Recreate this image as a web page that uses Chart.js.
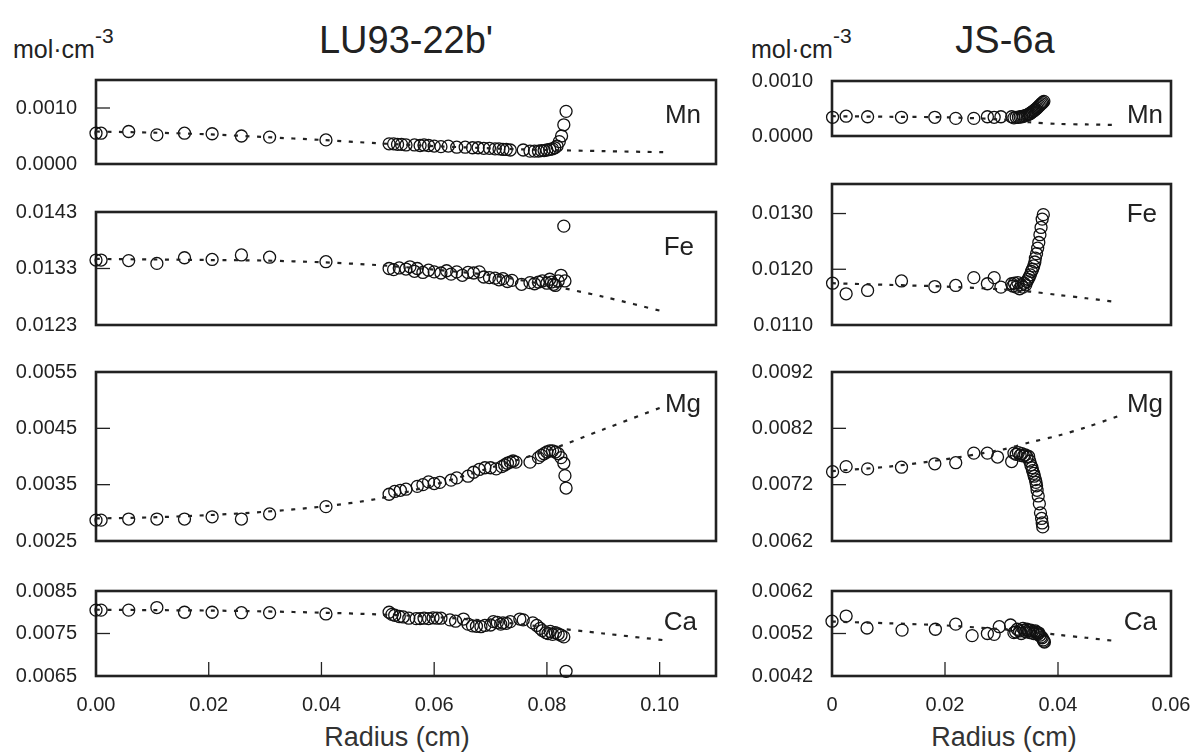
<!DOCTYPE html>
<html><head><meta charset="utf-8">
<script src="https://cdn.jsdelivr.net/npm/chart.js@4.4.1/dist/chart.umd.min.js"></script>
<style>
html,body{margin:0;padding:0;background:#fff;}
#wrap{position:relative;width:1193px;height:752px;overflow:hidden;font-family:"Liberation Sans",Arial,sans-serif;color:#222;}
canvas{position:absolute;}
.t{position:absolute;white-space:nowrap;line-height:1;}
.c{transform:translateX(-50%);}
</style></head><body><div id="wrap">
<div class="t c" style="left:406px;top:21px;font-size:38px;">LU93-22b'</div>
<div class="t c" style="left:1005px;top:21px;font-size:38px;">JS-6a</div>
<div class="t" style="left:13px;top:37px;font-size:25px;">mol·cm<span style="position:relative;top:-15px;font-size:21px;">-3</span></div>
<div class="t" style="left:751px;top:37px;font-size:25px;">mol·cm<span style="position:relative;top:-15px;font-size:21px;">-3</span></div>
<div class="t c" style="left:397px;top:724px;font-size:27px;color:#333;">Radius (cm)</div>
<div class="t c" style="left:1004px;top:724px;font-size:27px;color:#333;">Radius (cm)</div>
</div>
<script>
// ---------- LU93-22b' (left column) ----------
const luXTicks = [0, 0.02, 0.04, 0.06, 0.08, 0.10];
const luXLabels = ['0.00', '0.02', '0.04', '0.06', '0.08', '0.10'];

const luMnX = [0,0.0009,0.0058,0.0108,0.0157,0.0206,0.0258,0.0308,0.0408,0.0520,0.0528,0.0535,0.0542,0.0550,0.0565,0.0575,0.0582,0.0590,0.0600,0.0612,0.0625,0.0640,0.0655,0.0668,0.0678,0.0688,0.0698,0.0708,0.0715,0.0722,0.0728,0.0735,0.0758,0.0770,0.0778,0.0785,0.0790,0.0795,0.0800,0.0805,0.0810,0.0814,0.0818,0.0822,0.0826,0.0830,0.0834];
const luMnY = [0.00055,0.00055,0.00058,0.00052,0.00055,0.00054,0.00050,0.00048,0.00043,0.00036,0.00036,0.00035,0.00035,0.00034,0.00034,0.00033,0.00034,0.00033,0.00032,0.00031,0.00032,0.00030,0.00030,0.00029,0.00029,0.00028,0.00028,0.00027,0.00027,0.00026,0.00026,0.00025,0.00025,0.00023,0.00023,0.00023,0.00024,0.00024,0.00025,0.00026,0.00027,0.00029,0.00032,0.00040,0.00050,0.00070,0.00094];
const luFeX = [0,0.0009,0.0058,0.0108,0.0157,0.0206,0.0258,0.0308,0.0408,0.0520,0.0528,0.0538,0.0550,0.0557,0.0565,0.0570,0.0580,0.0590,0.0600,0.0612,0.0622,0.0630,0.0640,0.0650,0.0660,0.0670,0.0680,0.0688,0.0698,0.0708,0.0715,0.0722,0.0730,0.0738,0.0755,0.0770,0.0778,0.0785,0.0792,0.0800,0.0805,0.0808,0.0812,0.0815,0.0820,0.0825,0.0830,0.0832];
const luFeY = [0.01345,0.01345,0.01344,0.01339,0.01349,0.01346,0.01354,0.01350,0.01342,0.01330,0.01328,0.01331,0.01329,0.01333,0.01325,0.01330,0.01323,0.01327,0.01324,0.01322,0.01326,0.01320,0.01324,0.01318,0.01323,0.01322,0.01324,0.01315,0.01314,0.01313,0.01310,0.01312,0.01307,0.01309,0.01302,0.01305,0.01303,0.01306,0.01308,0.01304,0.01311,0.01306,0.01302,0.01300,0.01308,0.01318,0.01405,0.01308];
const luMgX = [0,0.0009,0.0058,0.0108,0.0157,0.0206,0.0258,0.0308,0.0408,0.0520,0.0530,0.0540,0.0550,0.0570,0.0580,0.0590,0.0600,0.0610,0.0630,0.0640,0.0660,0.0670,0.0680,0.0690,0.0700,0.0710,0.0720,0.0725,0.0730,0.0735,0.0740,0.0745,0.0770,0.0785,0.0790,0.0795,0.0800,0.0805,0.0810,0.0815,0.0820,0.0825,0.0830,0.0832,0.0834];
const luMgY = [0.00287,0.00287,0.00289,0.00289,0.00289,0.00293,0.00289,0.00298,0.00311,0.00333,0.00338,0.00340,0.00342,0.00347,0.00350,0.00355,0.00352,0.00354,0.00358,0.00362,0.00365,0.00372,0.00377,0.00380,0.00380,0.00378,0.00382,0.00385,0.00388,0.00390,0.00392,0.00390,0.00390,0.00398,0.00402,0.00405,0.00408,0.00410,0.00410,0.00408,0.00405,0.00398,0.00388,0.00366,0.00344];
const luCaX = [0,0.0009,0.0058,0.0108,0.0157,0.0206,0.0258,0.0308,0.0408,0.0520,0.0525,0.0530,0.0538,0.0545,0.0555,0.0568,0.0575,0.0582,0.0590,0.0598,0.0605,0.0612,0.0628,0.0638,0.0652,0.0660,0.0668,0.0675,0.0683,0.0690,0.0700,0.0705,0.0712,0.0718,0.0722,0.0728,0.0735,0.0752,0.0758,0.0775,0.0782,0.0788,0.0792,0.0798,0.0802,0.0806,0.0810,0.0815,0.0820,0.0825,0.0830,0.0834];
const luCaY = [0.00805,0.00805,0.00805,0.00811,0.00800,0.00800,0.00799,0.00799,0.00796,0.00800,0.00795,0.00793,0.00790,0.00789,0.00786,0.00785,0.00785,0.00786,0.00785,0.00787,0.00786,0.00786,0.00782,0.00779,0.00784,0.00772,0.00768,0.00767,0.00766,0.00769,0.00770,0.00778,0.00776,0.00772,0.00775,0.00774,0.00778,0.00784,0.00782,0.00775,0.00769,0.00762,0.00757,0.00752,0.00750,0.00755,0.00748,0.00752,0.00749,0.00746,0.00742,0.00661];

const luModelX = [0,0.01,0.02,0.03,0.04,0.05,0.06,0.07,0.08,0.09,0.101];
const luMnModelY = [0.00058,0.00056,0.00053,0.00048,0.00043,0.00037,0.00032,0.00028,0.00025,0.00023,0.00021];
const luFeModelY = [0.01347,0.01346,0.01345,0.01344,0.01341,0.01336,0.01328,0.01318,0.01301,0.01280,0.01253];
const luMgModelY = [0.00290,0.00292,0.00296,0.00302,0.00311,0.00325,0.00350,0.00380,0.00410,0.00448,0.00490];
const luCaModelY = [0.00806,0.00805,0.00804,0.00802,0.00799,0.00795,0.00789,0.00779,0.00765,0.00750,0.00734];

const luMnTicks = [0, 0.0010];           const luMnTickLabels = ['0.0000', '0.0010'];
const luFeTicks = [0.0123, 0.0133, 0.0143]; const luFeTickLabels = ['0.0123', '0.0133', '0.0143'];
const luMgTicks = [0.0025, 0.0035, 0.0045, 0.0055]; const luMgTickLabels = ['0.0025', '0.0035', '0.0045', '0.0055'];
const luCaTicks = [0.0065, 0.0075, 0.0085]; const luCaTickLabels = ['0.0065', '0.0075', '0.0085'];

// ---------- JS-6a (right column) ----------
const jsXTicks = [0, 0.02, 0.04, 0.06];
const jsXLabels = ['0', '0.02', '0.04', '0.06'];

const jsMnX = [0.0001,0.0025,0.0063,0.0123,0.0182,0.0219,0.0251,0.0275,0.0287,0.0299,0.0318,0.0322,0.0326,0.0330,0.0333,0.0336,0.0339,0.0342,0.0345,0.0347,0.0349,0.0351,0.0353,0.0355,0.0357,0.0359,0.0361,0.0363,0.0365,0.0367,0.0369,0.0371,0.0373,0.0375];
const jsMnY = [0.00034,0.00036,0.00035,0.00034,0.00034,0.00032,0.00032,0.00035,0.00034,0.00035,0.00035,0.00033,0.00034,0.00034,0.00035,0.00035,0.00036,0.00037,0.00038,0.00039,0.00040,0.00041,0.00043,0.00044,0.00046,0.00047,0.00049,0.00051,0.00053,0.00055,0.00057,0.00059,0.00061,0.00063];
const jsFeX = [0.0001,0.0025,0.0063,0.0123,0.0182,0.0219,0.0251,0.0275,0.0287,0.0299,0.0318,0.0320,0.0323,0.0326,0.0329,0.0332,0.0335,0.0338,0.0340,0.0343,0.0345,0.0347,0.0349,0.0351,0.0353,0.0355,0.0357,0.0359,0.0360,0.0362,0.0364,0.0366,0.0368,0.0370,0.0372,0.0374];
const jsFeY = [0.01175,0.01156,0.01162,0.01179,0.01169,0.01171,0.01185,0.01174,0.01185,0.01168,0.01174,0.01170,0.01175,0.01168,0.01176,0.01165,0.01172,0.01168,0.01175,0.01172,0.01178,0.01182,0.01186,0.01190,0.01196,0.01200,0.01206,0.01213,0.01220,0.01228,0.01238,0.01248,0.01262,0.01275,0.01290,0.01298];
const jsMgX = [0.0001,0.0025,0.0063,0.0123,0.0182,0.0219,0.0251,0.0275,0.0293,0.0318,0.0322,0.0326,0.0330,0.0333,0.0336,0.0339,0.0342,0.0345,0.0348,0.0350,0.0352,0.0354,0.0355,0.0357,0.0358,0.0360,0.0361,0.0362,0.0363,0.0365,0.0367,0.0369,0.0371,0.0372,0.0373];
const jsMgY = [0.00743,0.00752,0.00748,0.00751,0.00757,0.00759,0.00776,0.00776,0.00769,0.00761,0.00776,0.00774,0.00777,0.00772,0.00775,0.00771,0.00773,0.00769,0.00770,0.00762,0.00755,0.00750,0.00745,0.00740,0.00735,0.00729,0.00724,0.00718,0.00710,0.00700,0.00686,0.00670,0.00660,0.00652,0.00645];
const jsCaX = [0,0.0025,0.0062,0.0124,0.0183,0.0219,0.0248,0.0275,0.0287,0.0296,0.0316,0.0325,0.0322,0.0328,0.0332,0.0335,0.0338,0.0340,0.0343,0.0345,0.0348,0.0350,0.0352,0.0355,0.0357,0.0360,0.0362,0.0364,0.0366,0.0368,0.0370,0.0372,0.0374,0.0375,0.0376];
const jsCaY = [0.00549,0.00561,0.00533,0.00528,0.00530,0.00542,0.00515,0.00520,0.00518,0.00536,0.00540,0.00524,0.00522,0.00530,0.00526,0.00520,0.00532,0.00528,0.00524,0.00530,0.00527,0.00522,0.00528,0.00525,0.00520,0.00526,0.00523,0.00518,0.00521,0.00516,0.00512,0.00510,0.00505,0.00502,0.00500];

const jsModelX = [0,0.01,0.02,0.03,0.035,0.04,0.045,0.0505];
const jsMnModelY = [0.00036,0.00035,0.00034,0.00030,0.00025,0.00022,0.00021,0.00020];
const jsFeModelY = [0.01175,0.01172,0.01169,0.01164,0.01160,0.01154,0.01148,0.01141];
const jsMgModelY = [0.00744,0.00752,0.00765,0.00782,0.00795,0.00807,0.00822,0.00841];
const jsCaModelY = [0.00548,0.00544,0.00539,0.00530,0.00525,0.00517,0.00510,0.00502];

const jsMnTicks = [0, 0.0010];          const jsMnTickLabels = ['0.0000', '0.0010'];
const jsFeTicks = [0.0110, 0.0120, 0.0130]; const jsFeTickLabels = ['0.0110', '0.0120', '0.0130'];
const jsMgTicks = [0.0062, 0.0072, 0.0082, 0.0092]; const jsMgTickLabels = ['0.0062', '0.0072', '0.0082', '0.0092'];
const jsCaTicks = [0.0042, 0.0052, 0.0062]; const jsCaTickLabels = ['0.0042', '0.0052', '0.0062'];

const elements = ['Mn', 'Fe', 'Mg', 'Ca'];

// ---------- layout (positions / styles) ----------
const INK = '#222';
const FONT = '"Liberation Sans", Arial, sans-serif';
const zip = (xs, ys) => xs.map((x, i) => ({ x: x, y: ys[i] }));

const panels = [
  { l: 96, r: 716, t: 80,    b: 164.3, xMax: 0.11, yMin: 0,      yMax: 0.0015, yTicks: luMnTicks, yLabels: luMnTickLabels, xs: luMnX, ys: luMnY, mx: luModelX, my: luMnModelY, label: elements[0], inset: 15, dy: 43, showX: false, xTicks: luXTicks, xLabels: luXLabels },
  { l: 96, r: 716, t: 212.3, b: 325,   xMax: 0.11, yMin: 0.0123, yMax: 0.0143, yTicks: luFeTicks, yLabels: luFeTickLabels, xs: luFeX, ys: luFeY, mx: luModelX, my: luFeModelY, label: elements[1], inset: 22, dy: 43, showX: false, xTicks: luXTicks, xLabels: luXLabels },
  { l: 96, r: 716, t: 372.3, b: 541,   xMax: 0.11, yMin: 0.0025, yMax: 0.0055, yTicks: luMgTicks, yLabels: luMgTickLabels, xs: luMgX, ys: luMgY, mx: luModelX, my: luMgModelY, label: elements[2], inset: 15, dy: 40, showX: false, xTicks: luXTicks, xLabels: luXLabels },
  { l: 96, r: 716, t: 591,   b: 675.7, xMax: 0.11, yMin: 0.0065, yMax: 0.0085, yTicks: luCaTicks, yLabels: luCaTickLabels, xs: luCaX, ys: luCaY, mx: luModelX, my: luCaModelY, label: elements[3], inset: 19, dy: 39, showX: true, xTicks: luXTicks, xLabels: luXLabels },
  { l: 832, r: 1171, t: 80.7, b: 136,  xMax: 0.06, yMin: 0,      yMax: 0.0010, yTicks: jsMnTicks, yLabels: jsMnTickLabels, xs: jsMnX, ys: jsMnY, mx: jsModelX, my: jsMnModelY, label: elements[0], inset: 8, dy: 42, showX: false, xTicks: jsXTicks, xLabels: jsXLabels },
  { l: 832, r: 1171, t: 184,  b: 324.7, xMax: 0.06, yMin: 0.0110, yMax: 0.01353, yTicks: jsFeTicks, yLabels: jsFeTickLabels, xs: jsFeX, ys: jsFeY, mx: jsModelX, my: jsFeModelY, label: elements[1], inset: 14, dy: 38, showX: false, xTicks: jsXTicks, xLabels: jsXLabels },
  { l: 832, r: 1171, t: 372.3, b: 541,  xMax: 0.06, yMin: 0.0062, yMax: 0.0092, yTicks: jsMgTicks, yLabels: jsMgTickLabels, xs: jsMgX, ys: jsMgY, mx: jsModelX, my: jsMgModelY, label: elements[2], inset: 8, dy: 40, showX: false, xTicks: jsXTicks, xLabels: jsXLabels },
  { l: 832, r: 1171, t: 590.7, b: 676,  xMax: 0.06, yMin: 0.0042, yMax: 0.0062, yTicks: jsCaTicks, yLabels: jsCaTickLabels, xs: jsCaX, ys: jsCaY, mx: jsModelX, my: jsCaModelY, label: elements[3], inset: 14, dy: 39, showX: true, xTicks: jsXTicks, xLabels: jsXLabels }
];

const deco = {
  id: 'deco',
  beforeDatasetsDraw(chart, args, o) {
    const ctx = chart.ctx, a = chart.chartArea;
    ctx.save();
    ctx.strokeStyle = INK;
    ctx.lineWidth = 1.3;
    const ys = chart.scales.y, xs = chart.scales.x;
    o.yTicks.forEach(v => {
      if (v > ys.min + 1e-9 && v < ys.max - 1e-9) {
        const y = ys.getPixelForValue(v);
        ctx.beginPath(); ctx.moveTo(a.left, y); ctx.lineTo(a.left + 14, y); ctx.stroke();
      }
    });
    if (o.showX) {
      o.xTicks.forEach(v => {
        if (v > xs.min + 1e-9 && v < xs.max - 1e-9) {
          const x = xs.getPixelForValue(v);
          ctx.beginPath(); ctx.moveTo(x, a.bottom); ctx.lineTo(x, a.bottom - 14); ctx.stroke();
        }
      });
    }
    ctx.lineWidth = 2.6;
    ctx.strokeRect(a.left, a.top, a.right - a.left, a.bottom - a.top);
    ctx.fillStyle = INK;
    ctx.font = '26px ' + FONT;
    ctx.textAlign = 'right';
    ctx.textBaseline = 'alphabetic';
    ctx.fillText(o.label, a.right - o.inset, a.top + o.dy);
    ctx.restore();
  }
};

const wrap = document.getElementById('wrap');
panels.forEach(p => {
  const YW = p.l < 400 ? 96 : 100, PT = 36, PR = 50, PB = 36, XH = 60;
  const W = Math.round(YW + (p.r - p.l) + PR);
  const H = Math.round(PT + (p.b - p.t) + (p.showX ? XH : PB));
  const cv = document.createElement('canvas');
  cv.width = W; cv.height = H;
  cv.style.width = W + 'px'; cv.style.height = H + 'px';
  cv.style.left = (p.l - YW) + 'px';
  cv.style.top = (p.t - PT) + 'px';
  wrap.appendChild(cv);
  new Chart(cv, {
    type: 'scatter',
    data: {
      datasets: [
        { data: zip(p.mx, p.my), showLine: true, pointRadius: 0, borderColor: INK, borderWidth: 2.2, borderDash: [4, 7.5], tension: 0.3, fill: false, clip: false },
        { data: zip(p.xs, p.ys), pointRadius: 6, pointBorderWidth: 1.3, borderColor: '#111', backgroundColor: 'rgba(0,0,0,0)', pointHoverRadius: 6, clip: false }
      ]
    },
    options: {
      responsive: false, animation: false, devicePixelRatio: 1,
      layout: { padding: { left: 0, top: PT, right: PR, bottom: p.showX ? 0 : PB } },
      plugins: { legend: { display: false }, tooltip: { enabled: false },
        deco: { yTicks: p.yTicks, xTicks: p.xTicks, showX: p.showX, label: p.label, inset: p.inset, dy: p.dy } },
      scales: {
        x: {
          type: 'linear', min: 0, max: p.xMax, display: p.showX,
          grid: { display: false, drawTicks: false }, border: { display: false },
          ticks: { padding: 17, color: INK, font: { size: 20, family: FONT }, autoSkip: false, maxRotation: 0,
                   callback: (v, i) => p.xLabels[i] },
          afterBuildTicks: s => { s.ticks = p.xTicks.map(v => ({ value: v })); },
          afterFit: s => { s.height = p.showX ? XH : 0; }
        },
        y: {
          type: 'linear', min: p.yMin, max: p.yMax,
          grid: { display: false, drawTicks: false }, border: { display: false },
          ticks: { padding: 19, color: INK, font: { size: 20, family: FONT }, autoSkip: false,
                   callback: (v, i) => p.yLabels[i] },
          afterBuildTicks: s => { s.ticks = p.yTicks.map(v => ({ value: v })); },
          afterFit: s => { s.width = YW; }
        }
      }
    },
    plugins: [deco]
  });
});
</script>
</body></html>
